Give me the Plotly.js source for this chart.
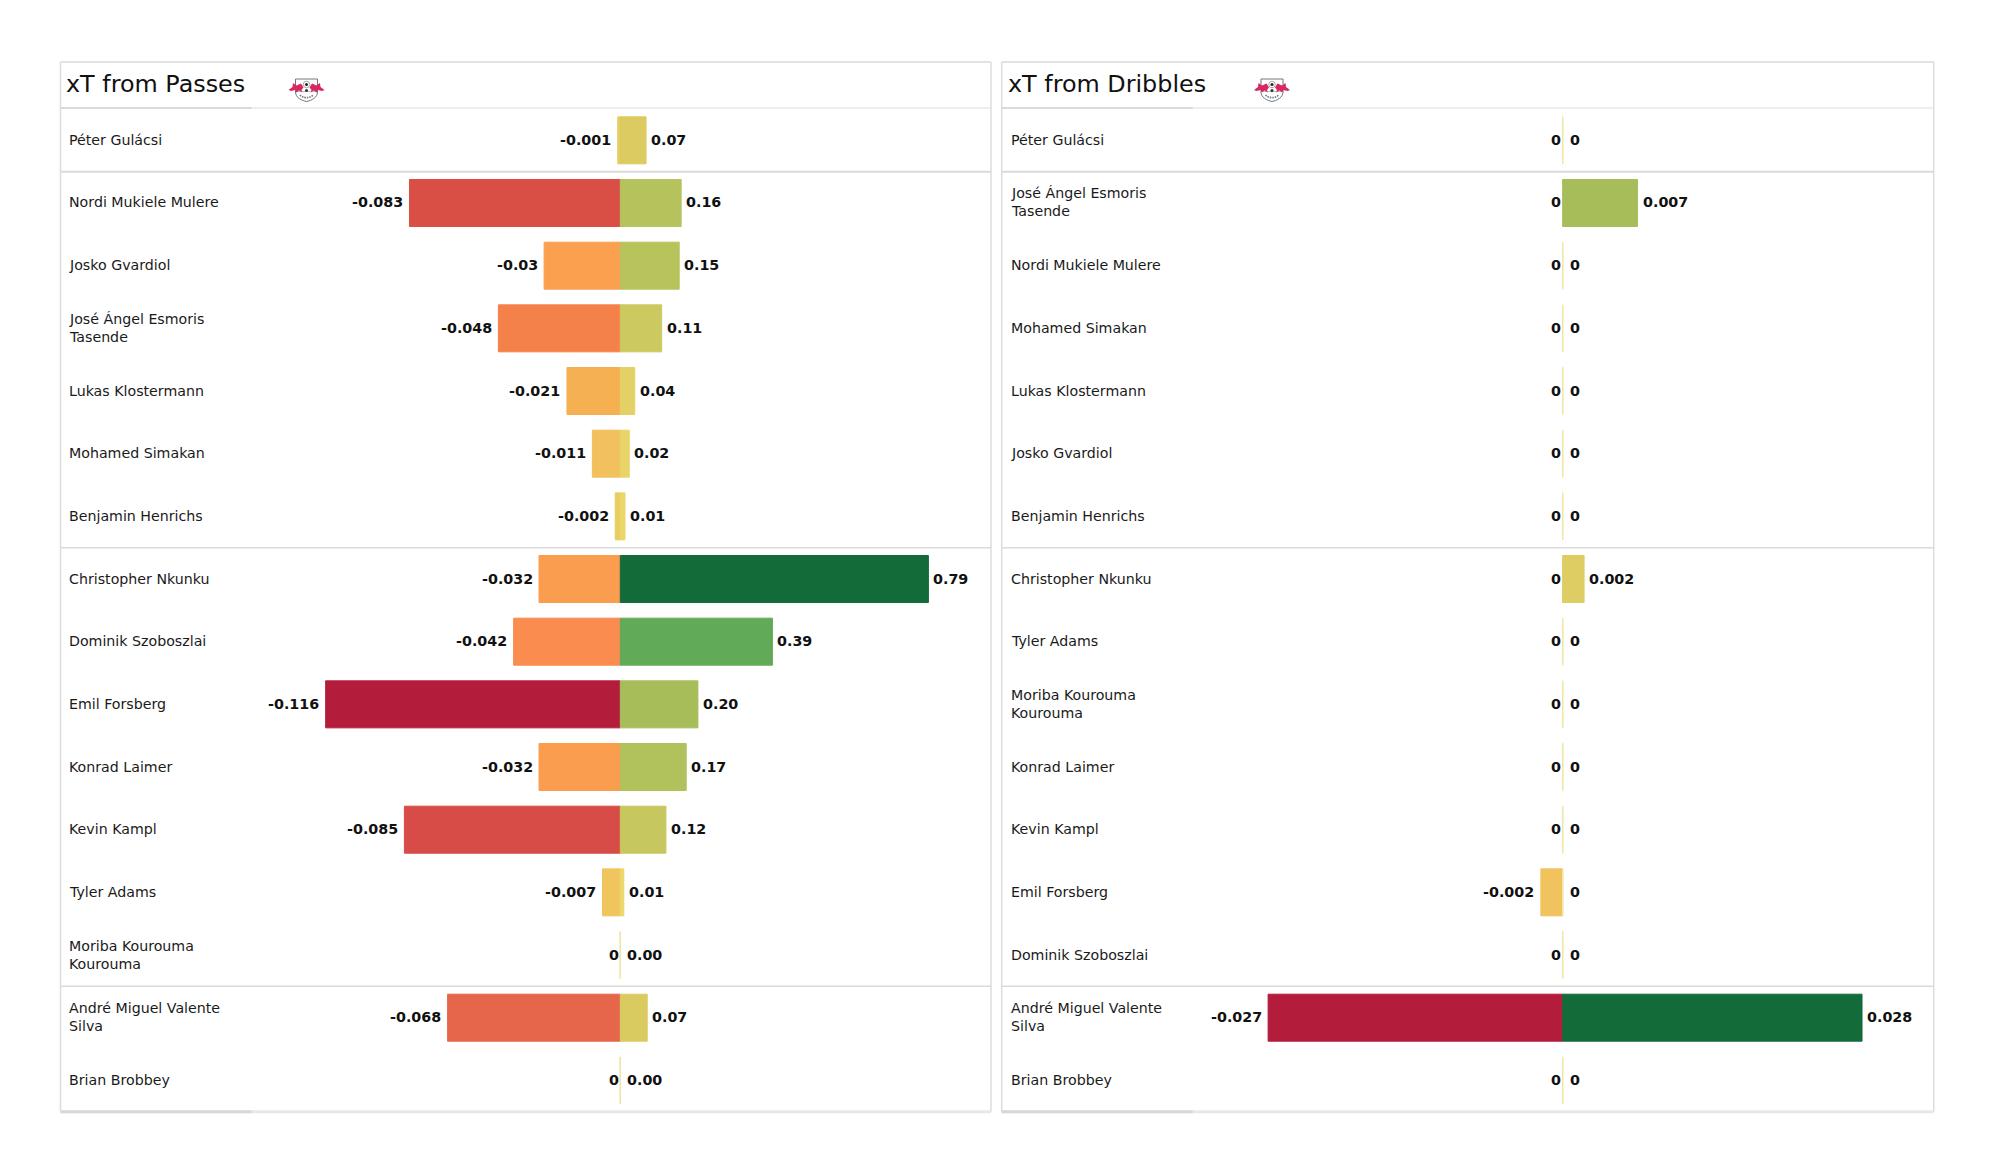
<!DOCTYPE html>
<html>
<head>
<meta charset="utf-8">
<script src="https://cdn.plot.ly/plotly-3.0.1.min.js"></script>
<style>html,body{margin:0;padding:0;background:#fff}#chart{width:2000px;height:1175px}</style>
</head>
<body>
<div id="chart"></div>
<script>
const passNames = ["Péter Gulácsi","Nordi Mukiele Mulere","Josko Gvardiol","José Ángel Esmoris<br>Tasende","Lukas Klostermann","Mohamed Simakan","Benjamin Henrichs","Christopher Nkunku","Dominik Szoboszlai","Emil Forsberg","Konrad Laimer","Kevin Kampl","Tyler Adams","Moriba Kourouma<br>Kourouma","André Miguel Valente<br>Silva","Brian Brobbey"];
const passNeg = [-0.001,-0.083,-0.03,-0.048,-0.021,-0.011,-0.002,-0.032,-0.042,-0.116,-0.032,-0.085,-0.007,0,-0.068,0];
const passPos = [0.066,0.156,0.151,0.106,0.037,0.023,0.012,0.79,0.39,0.199,0.169,0.117,0.009,0,0.069,0];

const dribNames = ["Péter Gulácsi","José Ángel Esmoris<br>Tasende","Nordi Mukiele Mulere","Mohamed Simakan","Lukas Klostermann","Josko Gvardiol","Benjamin Henrichs","Christopher Nkunku","Tyler Adams","Moriba Kourouma<br>Kourouma","Konrad Laimer","Kevin Kampl","Emil Forsberg","Dominik Szoboszlai","André Miguel Valente<br>Silva","Brian Brobbey"];
const dribNeg = [0,0,0,0,0,0,0,0,0,0,0,0,-0.002,0,-0.027,0];
const dribPos = [0,0.007,0,0,0,0,0,0.002,0,0,0,0,0,0,0.028,0];

const groupBreaks = [0.5, 6.5, 13.5];
const panelTitles = ["xT from Passes","xT from Dribbles"];

const W = 2000, H = 1175;
const FONT = '"DejaVu Sans", sans-serif';
const negScale = [
 [0,'#B41C3C'],[0.28,'#D94E46'],[0.41,'#E5654B'],[0.59,'#F5824A'],[0.64,'#F98C4E'],
 [0.74,'#FBA04F'],[0.82,'#F5B052'],[0.905,'#F2C05D'],[0.94,'#F0C55E'],[0.995,'#E6CF62'],[1,'#F0E6A4']];
const posScale = [
 [0,'#F0E6A4'],[0.005,'#EDD86C'],[0.084,'#DBCB60'],[0.133,'#CBC95F'],[0.19,'#B8C35B'],[0.25,'#A7BD5A'],
 [0.49,'#62AB58'],[1,'#146B3A']];

const LEFT = {x0:60.5,x1:991,zero:620.3,neg:2540,pos:390};
const RIGHT = {x0:1001.7,x1:1933.7,zero:1562.7,neg:10911,pos:10690};
const TOP = 109, BOT = 1111.7, FRAME_TOP = 62;
const px = x => x / W, py = y => 1 - y / H;
const rangeFor = (p, s) => [-(p.zero - p.x0) / s, (p.x1 - p.zero) / s];

function barTrace(names, vals, xa, ya, scale, cmin, cmax) {
  return {type:'bar', orientation:'h', y:names, x:vals, xaxis:xa, yaxis:ya, width:0.75,
    hoverinfo:'skip', showlegend:false,
    marker:{color:vals, colorscale:scale, cmin:cmin, cmax:cmax, showscale:false,
      line:{color:vals, colorscale:scale, cmin:cmin, cmax:cmax, width:1}}};
}
const data = [
  barTrace(passNames, passNeg, 'x', 'y', negScale, Math.min(...passNeg), 0),
  barTrace(passNames, passPos, 'x2', 'y', posScale, 0, Math.max(...passPos)),
  barTrace(dribNames, dribNeg, 'x3', 'y2', negScale, Math.min(...dribNeg), 0),
  barTrace(dribNames, dribPos, 'x4', 'y2', posScale, 0, Math.max(...dribPos))
];

const annotations = [];
function addLabels(names, vals, xa, ya, isNeg, fmt) {
  vals.forEach((v, i) => {
    annotations.push({xref:xa, yref:ya, x:v, y:names[i], text:fmt(v), showarrow:false,
      xanchor:isNeg?'right':'left', yanchor:'middle', borderpad:0, borderwidth:0,
      xshift:isNeg?(v===0?-1.5:-6.5):(v===0?7:5), yshift:0.5,
      font:{family:FONT, size:14.3, color:'#111', weight:700}});
  });
}
addLabels(passNames, passNeg, 'x', 'y', true, v => String(v));
addLabels(passNames, passPos, 'x2', 'y', false, v => v.toFixed(2));
addLabels(dribNames, dribNeg, 'x3', 'y2', true, v => String(v));
addLabels(dribNames, dribPos, 'x4', 'y2', false, v => String(v));

function addNames(names, ya, xpx) {
  names.forEach(n => annotations.push({xref:'paper', yref:ya, x:px(xpx), y:n, text:n, showarrow:false,
    xanchor:'left', yanchor:'middle', align:'left', borderpad:0, borderwidth:0, yshift:0.5,
    font:{family:FONT, size:14.2, color:'#1a1a1a'}}));
}
addNames(passNames, 'y', 69);
addNames(dribNames, 'y2', 1010.5);

[[panelTitles[0], 66],[panelTitles[1], 1008]].forEach(([t, x]) => annotations.push({
  xref:'paper', yref:'paper', x:px(x), y:py(84), text:t, showarrow:false, xanchor:'left', yanchor:'middle',
  borderpad:0, borderwidth:0, font:{family:FONT, size:23.85, color:'#111'}}));

const shapes = [];
const hline = (x0,x1,yref,y,color,w) => shapes.push({type:'line', xref:'paper', yref, x0:px(x0), x1:px(x1), y0:y, y1:y, line:{color, width:w}, layer:'below'});
[[LEFT,'y'],[RIGHT,'y2']].forEach(([p,ya]) => {
  shapes.push({type:'line', xref:'paper', yref:'paper', x0:px(p.x0), x1:px(p.x0), y0:py(FRAME_TOP), y1:py(BOT), line:{color:'#DCDCDC', width:1.5}, layer:'below'});
  shapes.push({type:'line', xref:'paper', yref:'paper', x0:px(p.x1), x1:px(p.x1), y0:py(FRAME_TOP), y1:py(BOT), line:{color:'#DCDCDC', width:1.5}, layer:'below'});
  hline(p.x0, p.x1, 'paper', py(FRAME_TOP), '#E2E2E2', 2);
  hline(p.x0, p.x1, 'paper', py(108), '#E8E8E8', 1.5);
  hline(p.x0, p.x0+191, 'paper', py(108), '#D2D2D2', 1.5);
  hline(p.x0, p.x1, 'paper', py(BOT), '#E8E8E8', 3);
  hline(p.x0, p.x0+191, 'paper', py(BOT), '#D8D8D8', 3);
  groupBreaks.forEach((b,i) => hline(p.x0, p.x1, ya, b, '#DADADA', i===0?2:1.5));
});

const logoSvg = `<svg xmlns="http://www.w3.org/2000/svg" viewBox="0 0 74 50">
<path d="M15 3H59V29C59 40 47 46 37 48C27 46 15 40 15 29Z" fill="#fff" stroke="#6f7880" stroke-width="2"/>
<path d="M18 28H56" stroke="#8f98a0" stroke-width="1.2"/>
<path d="M24 35C30 42 44 42 50 35" fill="none" stroke="#6f7880" stroke-width="3.4" stroke-dasharray="3 2"/>
<path d="M1 25L9 19L10 11L17 16L26 12L31 20L27 25L29 30L22 26L17 30L14 25L6 27Z" fill="#D8285F"/>
<path d="M73 25L65 19L64 11L57 16L48 12L43 20L47 25L45 30L52 26L57 30L60 25L68 27Z" fill="#D8285F"/>
<circle cx="37" cy="14" r="6.5" fill="#fff" stroke="#555" stroke-width="1"/>
<circle cx="37" cy="14" r="3" fill="#222"/>
<circle cx="37" cy="26" r="3" fill="#333"/>
</svg>`;
const logoSrc = 'data:image/svg+xml;charset=utf-8,' + encodeURIComponent(logoSvg);
const images = [306.5, 1272].map(x => ({source:logoSrc, xref:'paper', yref:'paper', x:px(x), y:py(90),
  sizex:37/W, sizey:25/H, xanchor:'center', yanchor:'middle', sizing:'contain', layer:'above'}));

const hiddenX = (p, s, extra) => Object.assign({domain:[px(p.x0), px(p.x1)], range:rangeFor(p, s), visible:false, fixedrange:true, zeroline:false, showgrid:false}, extra);
const hiddenY = (names, extra) => Object.assign({domain:[py(BOT), py(TOP)], type:'category', categoryorder:'array', categoryarray:names, range:[15.5,-0.5], visible:false, fixedrange:true, showgrid:false, zeroline:false}, extra);

const layout = {
  width:W, height:H, margin:{l:0,r:0,t:0,b:0,pad:0}, paper_bgcolor:'#fff', plot_bgcolor:'rgba(0,0,0,0)',
  barmode:'overlay', showlegend:false, font:{family:FONT},
  xaxis:hiddenX(LEFT, LEFT.neg, {anchor:'y'}),
  xaxis2:hiddenX(LEFT, LEFT.pos, {anchor:'y', overlaying:'x'}),
  xaxis3:hiddenX(RIGHT, RIGHT.neg, {anchor:'y2'}),
  xaxis4:hiddenX(RIGHT, RIGHT.pos, {anchor:'y2', overlaying:'x3'}),
  yaxis:hiddenY(passNames, {anchor:'x'}),
  yaxis2:hiddenY(dribNames, {anchor:'x3'}),
  shapes, annotations, images
};
Plotly.newPlot('chart', data, layout, {displayModeBar:false, staticPlot:true});
</script>
</body>
</html>
